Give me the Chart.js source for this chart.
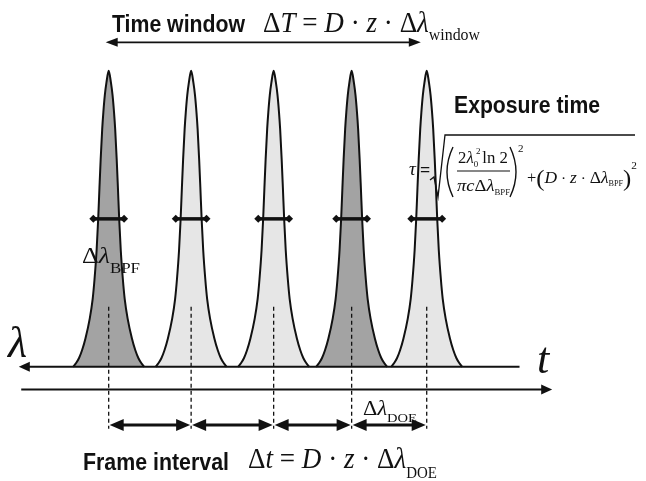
<!DOCTYPE html>
<html>
<head>
<meta charset="utf-8">
<script src="https://cdn.jsdelivr.net/npm/chart.js@4/dist/chart.umd.min.js"></script>
<style>
  html, body { margin: 0; padding: 0; background: #fff; }
  canvas { display: block; }
</style>
</head>
<body>
<canvas id="pulseChart" width="646" height="481"></canvas>
<script>
// pulse centres along t (1 unit ~ one frame interval)
const peakCenters = [0, 1.018, 2.037, 3.0, 3.927];
const peakShades = ['dark', 'light', 'light', 'dark', 'light'];

// one pulse: relative intensity vs half width
const profileLevels     = [1.0, 0.96, 0.917, 0.86, 0.804, 0.701, 0.605, 0.498, 0.395, 0.296, 0.229, 0.163, 0.096, 0.056, 0.03, 0.013, 0];
const profileHalfWidths = [0, 0.028, 0.048, 0.066, 0.08, 0.099, 0.114, 0.13, 0.149, 0.175, 0.198, 0.234, 0.287, 0.329, 0.366, 0.402, 0.439];

// FWHM marker (bandwidth of the BPF)
const fwhmLevel = 0.5;
const fwhmHalfWidth = 0.19;

const shadeColors = { dark: '#a3a3a3', light: '#e6e6e6' };
const ink = '#111';
const sans = '"Liberation Sans", Arial, sans-serif';
const serif = '"Liberation Serif", "Times New Roman", serif';

// layout of the guide lines, in chart units
const dashTop = 0.203, dashBottom = -0.209;
const upperAxis = { y: 0, from: -1.11, to: 5.073 };
const lowerAxis = { y: -0.0764, from: -1.08, to: 5.476 };
const windowArrow = { y: 1.0963, from: -0.037, to: 3.854 };
const frameArrowY = -0.196;

function peakPoints(c) {
  const pts = [];
  for (let i = profileLevels.length - 1; i > 0; i--) pts.push({ x: c - profileHalfWidths[i], y: profileLevels[i] });
  for (let i = 0; i < profileLevels.length; i++) pts.push({ x: c + profileHalfWidths[i], y: profileLevels[i] });
  return pts;
}

const datasets = [];
peakCenters.forEach((c, i) => {
  datasets.push({
    data: peakPoints(c),
    order: 3,
    fill: 'origin',
    backgroundColor: shadeColors[peakShades[i]],
    borderColor: ink,
    borderWidth: 2,
    pointRadius: 0,
    cubicInterpolationMode: 'monotone'
  });
});
peakCenters.forEach(c => {
  datasets.push({
    data: [{ x: c, y: dashTop }, { x: c, y: dashBottom }],
    order: 2,
    borderColor: ink,
    borderWidth: 1.3,
    borderDash: [4, 3],
    pointRadius: 0,
    fill: false
  });
});
peakCenters.forEach(c => {
  datasets.push({
    data: [{ x: c - fwhmHalfWidth, y: fwhmLevel }, { x: c + fwhmHalfWidth, y: fwhmLevel }],
    order: 1,
    borderColor: ink,
    borderWidth: 3.5,
    pointStyle: 'rectRot',
    pointRadius: 4,
    pointBackgroundColor: ink,
    pointBorderWidth: 0,
    fill: false
  });
});

function arrowHead(ctx, x, y, dir, len, half) {
  ctx.beginPath();
  ctx.moveTo(x, y);
  ctx.lineTo(x - dir * len, y - half);
  ctx.lineTo(x - dir * len, y + half);
  ctx.closePath();
  ctx.fill();
}

function hArrow(ctx, x1, x2, y, width, left, right, len, half) {
  ctx.lineWidth = width;
  ctx.beginPath();
  ctx.moveTo(x1 + (left ? len * 0.8 : 0), y);
  ctx.lineTo(x2 - (right ? len * 0.8 : 0), y);
  ctx.stroke();
  if (left) arrowHead(ctx, x1, y, -1, len, half);
  if (right) arrowHead(ctx, x2, y, 1, len, half);
}

// text runs: [text, font, dy]
function drawRuns(ctx, x, y, runs, targetWidth) {
  let total = 0;
  runs.forEach(r => { ctx.font = r[1]; total += ctx.measureText(r[0]).width; });
  const s = targetWidth ? targetWidth / total : 1;
  ctx.save();
  ctx.translate(x, y);
  ctx.scale(s, 1);
  let cx = 0;
  runs.forEach(r => {
    ctx.font = r[1];
    ctx.fillText(r[0], cx, r[2] || 0);
    cx += ctx.measureText(r[0]).width;
  });
  ctx.restore();
}

const overlay = {
  id: 'overlay',
  afterDatasetsDraw(chart) {
    const ctx = chart.ctx;
    const xs = chart.scales.x, ys = chart.scales.y;
    const px = v => xs.getPixelForValue(v);
    const py = v => ys.getPixelForValue(v);
    ctx.save();
    ctx.fillStyle = ink;
    ctx.strokeStyle = ink;

    // lambda and t axes
    hArrow(ctx, px(upperAxis.from), px(upperAxis.to), py(upperAxis.y), 2, true, false, 11, 5);
    hArrow(ctx, px(lowerAxis.from), px(lowerAxis.to), py(lowerAxis.y), 2, false, true, 11, 5);
    // time window
    hArrow(ctx, px(windowArrow.from), px(windowArrow.to), py(windowArrow.y), 1.6, true, true, 12, 4.5);
    // frame intervals
    for (let i = 0; i < peakCenters.length - 1; i++) {
      hArrow(ctx, px(peakCenters[i]) + 1, px(peakCenters[i + 1]) - 1, py(frameArrowY), 3, true, true, 14, 6);
    }

    ctx.textBaseline = 'alphabetic';
    // headings
    drawRuns(ctx, 112, 32, [['Time window', `bold 24px ${sans}`]], 133);
    drawRuns(ctx, 454, 113, [['Exposure time', `bold 23px ${sans}`]], 146);
    drawRuns(ctx, 83, 470, [['Frame interval', `bold 24px ${sans}`]], 146);

    drawRuns(ctx, 263, 32, [
      ['Δ', `29px ${serif}`], ['T', `italic 29px ${serif}`], [' = ', `29px ${serif}`],
      ['D', `italic 29px ${serif}`], [' · ', `29px ${serif}`], ['z', `italic 29px ${serif}`],
      [' · ', `29px ${serif}`], ['Δ', `29px ${serif}`], ['λ', `italic 29px ${serif}`],
      ['window', `17px ${serif}`, 8]
    ], 217);

    drawRuns(ctx, 248, 468, [
      ['Δ', `29px ${serif}`], ['t', `italic 29px ${serif}`], [' = ', `29px ${serif}`],
      ['D', `italic 29px ${serif}`], [' · ', `29px ${serif}`], ['z', `italic 29px ${serif}`],
      [' · ', `29px ${serif}`], ['Δ', `29px ${serif}`], ['λ', `italic 29px ${serif}`],
      ['DOE', `16px ${serif}`, 10]
    ], 189);

    drawRuns(ctx, 82, 263, [
      ['Δ', `23px ${serif}`], ['λ', `italic 23px ${serif}`], ['BPF', `15px ${serif}`, 10]
    ], 58);
    drawRuns(ctx, 363, 415, [
      ['Δ', `20px ${serif}`], ['λ', `italic 20px ${serif}`], ['DOE', `13px ${serif}`, 7]
    ], 54);

    // axis symbols
    ctx.font = `italic 44px ${serif}`;
    ctx.fillText('λ', 8, 357);
    ctx.fillText('t', 537, 373);

    // exposure time formula
    ctx.font = `italic 19px ${serif}`;
    ctx.fillText('τ', 409, 175);
    ctx.font = `bold 18px ${serif}`;
    ctx.fillText('=', 420, 176);
    ctx.lineWidth = 1.3;
    ctx.beginPath();
    ctx.moveTo(430, 180); ctx.lineTo(434, 177); ctx.lineTo(438, 197);
    ctx.lineTo(445, 135); ctx.lineTo(635, 135);
    ctx.stroke();
    ctx.lineWidth = 1.4;
    ctx.beginPath();
    ctx.moveTo(453, 147); ctx.quadraticCurveTo(441, 172, 453, 197);
    ctx.moveTo(510, 147); ctx.quadraticCurveTo(522, 172, 510, 197);
    ctx.stroke();
    ctx.lineWidth = 1.1;
    ctx.beginPath();
    ctx.moveTo(457, 171); ctx.lineTo(510, 171);
    ctx.stroke();
    drawRuns(ctx, 458, 163, [
      ['2', `17px ${serif}`], ['λ', `italic 17px ${serif}`], ['0', `9px ${serif}`, 4],
      [' ln 2', `17px ${serif}`]
    ], 50);
    ctx.font = `9px ${serif}`;
    ctx.fillText('2', 476, 154);
    drawRuns(ctx, 457, 191, [
      ['π', `italic 17px ${serif}`], ['c', `italic 17px ${serif}`], ['Δ', `17px ${serif}`],
      ['λ', `italic 17px ${serif}`], ['BPF', `8px ${serif}`, 4]
    ], 53);
    ctx.font = `11px ${serif}`;
    ctx.fillText('2', 518, 152);
    drawRuns(ctx, 527, 183, [
      ['+', `16px ${serif}`], ['(', `24px ${serif}`, 3], ['D', `italic 17px ${serif}`],
      [' · ', `15px ${serif}`], ['z', `italic 17px ${serif}`], [' · ', `15px ${serif}`],
      ['Δ', `17px ${serif}`], ['λ', `italic 17px ${serif}`], ['BPF', `8px ${serif}`, 3],
      [')', `24px ${serif}`, 3], ['2', `11px ${serif}`, -14]
    ], 110);

    ctx.restore();
  }
};

new Chart(document.getElementById('pulseChart'), {
  type: 'line',
  data: { datasets },
  options: {
    responsive: false,
    animation: false,
    devicePixelRatio: 1,
    layout: { padding: 0 },
    plugins: { legend: { display: false }, tooltip: { enabled: false } },
    scales: {
      x: { type: 'linear', display: false, min: -1.2927, max: 6.5854 },
      y: { type: 'linear', display: false, min: -0.3721, max: 1.2259 }
    }
  },
  plugins: [overlay]
});
</script>
</body>
</html>
